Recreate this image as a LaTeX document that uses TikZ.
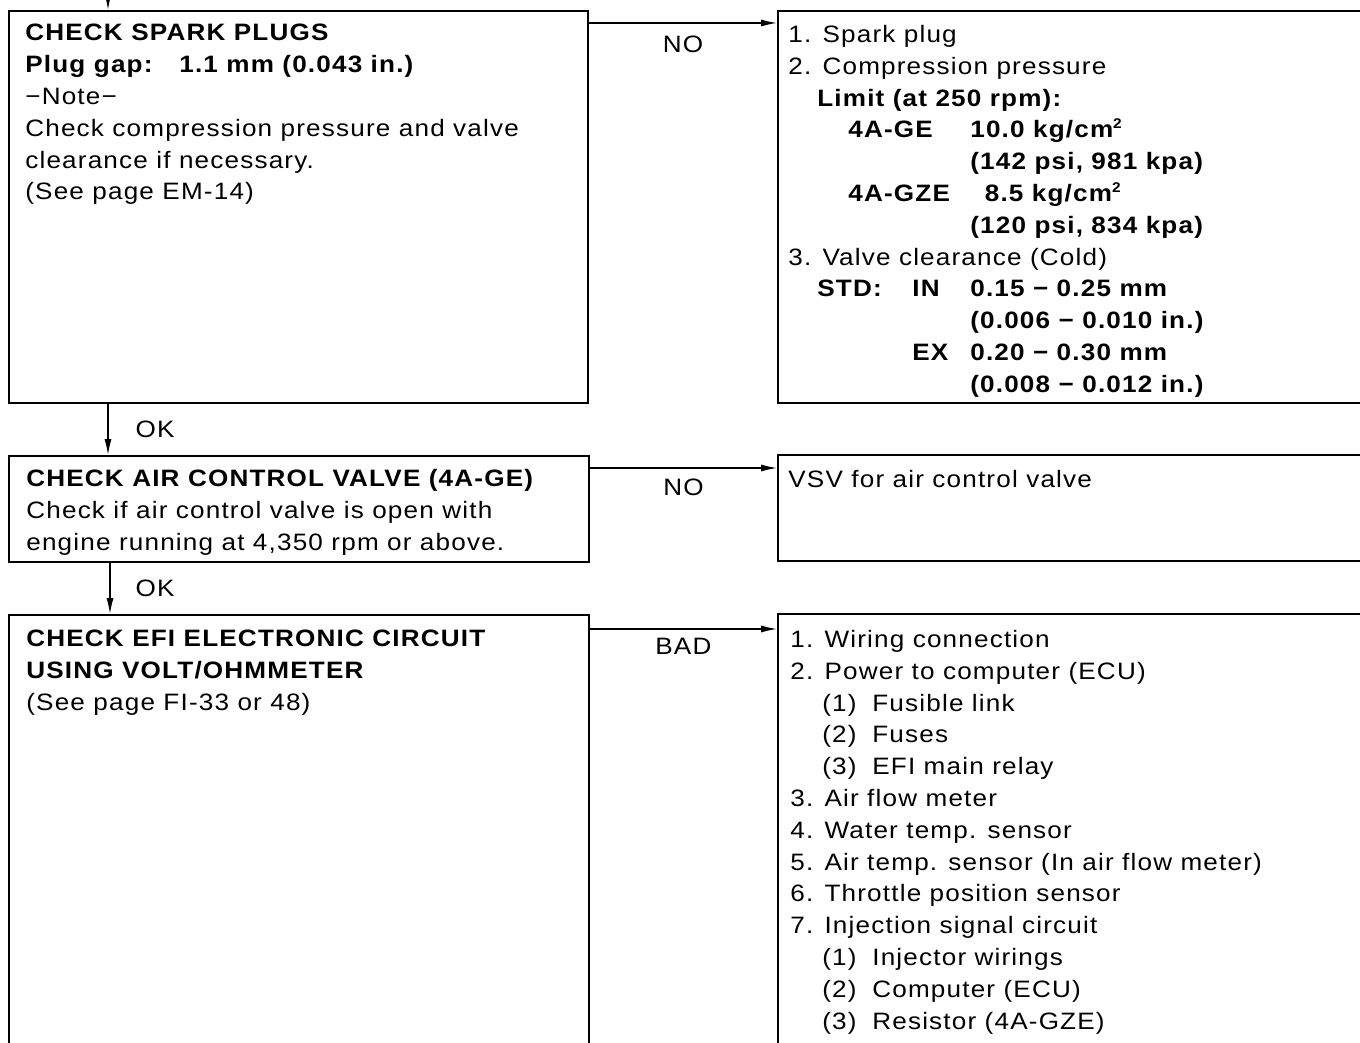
\documentclass[tikz,border=0pt]{standalone}
\usepackage{fontspec}
\setmainfont{Liberation Sans}[FakeStretch=1.1,LetterSpace=5]
\usetikzlibrary{arrows.meta, positioning, calc}
\newcommand{\col}[2]{\makebox[#1][l]{#2}}
\newcommand{\sq}{\raisebox{0.75ex}{\fontsize{8}{8}\selectfont 2}}

\begin{document}
\begin{tikzpicture}[x=0.02cm, y=-0.02cm,
  box/.style={rectangle, draw, anchor=north west, inner sep=0pt, line width=1.1pt},
  txt/.style={anchor=north west, align=left, inner sep=0pt,
              font=\fontsize{13.5}{18.1}\selectfont},
  lbl/.style={inner sep=0pt, font=\fontsize{13.5}{16}\selectfont},
  arrow/.style={-{Latex[length=9pt,width=4pt]}, line width=0.8pt}]

  \useasboundingbox (0,0) rectangle (1360,1043);
  \clip (0,0) rectangle (1360,1043);

  % left column: checks
  \node[box, minimum width=11.58cm, minimum height=7.84cm] (plugs) at (8,10) {};
  \node[box, minimum width=11.6cm, minimum height=2.12cm] (air) at (8,455) {};
  \node[box, minimum width=11.6cm, minimum height=10cm] (efi) at (8,614) {};

  % right column: causes
  \node[box, minimum width=12cm, minimum height=7.84cm] (causesA) at (777,10) {};
  \node[box, minimum width=12cm, minimum height=2.12cm] (vsv) at (777,454) {};
  \node[box, minimum width=12cm, minimum height=10cm] (causesB) at (777,613) {};

  \node[txt] (plugsText) at (25,24) {%
    \textbf{CHECK SPARK PLUGS}\\
    \textbf{\col{3.08cm}{Plug gap:}1.1 mm (0.043 in.)}\\
    −Note−\\
    Check compression pressure and valve\\
    clearance if necessary.\\
    (See page EM-14)};

  \node[txt] (airText) at (26,469) {%
    \textbf{CHECK AIR CONTROL VALVE (4A-GE)}\\
    Check if air control valve is open with\\
    engine running at 4,350 rpm or above.};

  \node[txt] (efiText) at (26,630) {%
    \textbf{CHECK EFI ELECTRONIC CIRCUIT}\\
    \textbf{USING VOLT/OHMMETER}\\
    (See page FI-33 or 48)};

  \node[txt] (causesAText) at (788,25) {%
    1. Spark plug\\
    2. Compression pressure\\
    \hspace*{0.58cm}\textbf{Limit (at 250 rpm):}\\
    \textbf{\col{3.64cm}{\hspace*{1.2cm}4A-GE}10.0 kg/cm\sq}\\
    \textbf{\hspace*{3.64cm}(142 psi, 981 kpa)}\\
    \textbf{\col{3.64cm}{\hspace*{1.2cm}4A-GZE}\phantom{1}8.5 kg/cm\sq}\\
    \textbf{\hspace*{3.64cm}(120 psi, 834 kpa)}\\
    3. Valve clearance (Cold)\\
    \textbf{\col{3.64cm}{\hspace*{0.58cm}\col{1.9cm}{STD:}IN}0.15 − 0.25 mm}\\
    \textbf{\hspace*{3.64cm}(0.006 − 0.010 in.)}\\
    \textbf{\col{3.64cm}{\hspace*{2.48cm}EX}0.20 − 0.30 mm}\\
    \textbf{\hspace*{3.64cm}(0.008 − 0.012 in.)}};

  \node[txt] (vsvText) at (788,470) {VSV for air control valve};

  \node[txt] (causesBText) at (790,630) {%
    1. Wiring connection\\
    2. Power to computer (ECU)\\
    \hspace*{0.64cm}\col{1cm}{(1)}Fusible link\\
    \hspace*{0.64cm}\col{1cm}{(2)}Fuses\\
    \hspace*{0.64cm}\col{1cm}{(3)}EFI main relay\\
    3. Air flow meter\\
    4. Water temp. sensor\\
    5. Air temp. sensor (In air flow meter)\\
    6. Throttle position sensor\\
    7. Injection signal circuit\\
    \hspace*{0.64cm}\col{1cm}{(1)}Injector wirings\\
    \hspace*{0.64cm}\col{1cm}{(2)}Computer (ECU)\\
    \hspace*{0.64cm}\col{1cm}{(3)}Resistor (4A-GZE)};

  % flow
  \coordinate (entry) at (108,0);
  \coordinate (okA) at ($(plugs.south west)+(100,0)$);
  \coordinate (okB) at ($(air.south west)+(102,0)$);

  \draw[arrow] (entry) -- (entry |- plugs.north);
  \draw[arrow] (okA) -- (okA |- air.north)
    node[lbl, midway, right=0.54cm] {OK};
  \draw[arrow] (okB) -- (okB |- efi.north)
    node[lbl, midway, right=0.5cm] {OK};

  \draw[arrow] ($(plugs.north east)+(0,13)$) -- ($(causesA.north west)+(0,13)$)
    node[lbl, midway, below=7pt] {NO};
  \draw[arrow] ($(air.north east)+(0,13)$) -- ($(vsv.north west)+(0,14)$)
    node[lbl, midway, below=6pt] {NO};
  \draw[arrow] ($(efi.north east)+(0,15)$) -- ($(causesB.north west)+(0,16)$)
    node[lbl, midway, below=5pt] {BAD};
\end{tikzpicture}
\end{document}
